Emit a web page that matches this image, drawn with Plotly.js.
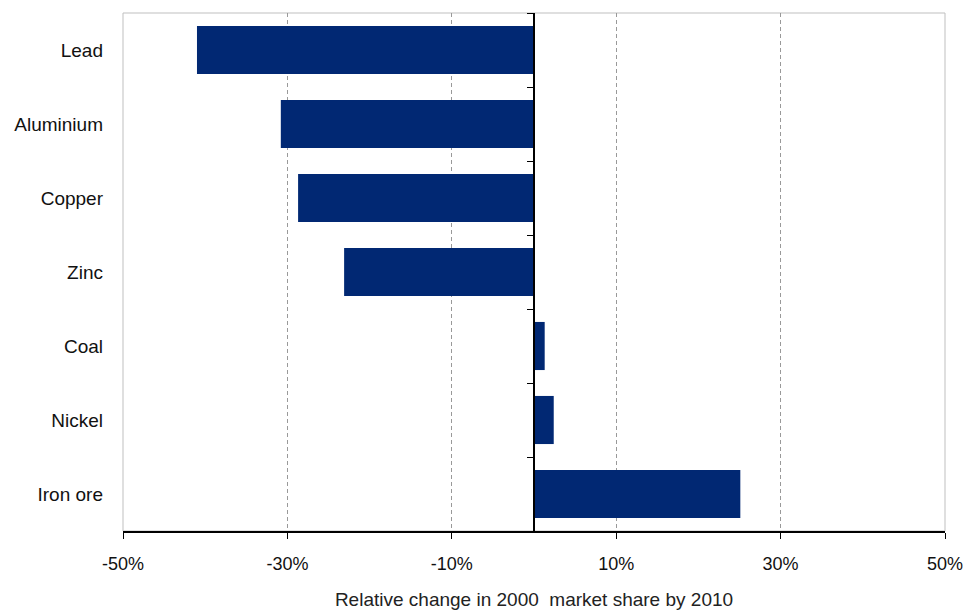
<!DOCTYPE html>
<html>
<head>
<meta charset="utf-8">
<script src="https://cdn.plot.ly/plotly-3.0.1.min.js"></script>
<style>html,body{margin:0;padding:0;background:#fff;}#chart{width:967px;height:610px;}</style>
</head>
<body>
<div id="chart"></div>
<script>
const categories = ["Lead", "Aluminium", "Copper", "Zinc", "Coal", "Nickel", "Iron ore"];
const values = [-41, -30.8, -28.7, -23.1, 1.3, 2.4, 25.1];
const xTickValues = [-50, -30, -10, 10, 30, 50];
const xTickLabels = ["-50%", "-30%", "-10%", "10%", "30%", "50%"];
const axisTitle = "Relative change in 2000\u00a0 market share by 2010";

const barColor = "#012873";

const traces = [
  {
    type: "bar", orientation: "h",
    x: values, y: categories,
    marker: {color: barColor, line: {width: 0}},
    width: 0.65,
    hoverinfo: "x+y",
    xaxis: "x", yaxis: "y"
  },
  {
    type: "bar", orientation: "h",
    x: values, y: categories,
    marker: {color: "rgba(0,0,0,0)"},
    width: 0.65,
    hoverinfo: "skip", showlegend: false,
    xaxis: "x", yaxis: "y2"
  }
];

const layout = {
  width: 967, height: 610,
  margin: {l: 123, r: 22, t: 13, b: 79},
  paper_bgcolor: "#fff", plot_bgcolor: "#fff",
  showlegend: false,
  font: {family: "Liberation Sans, Arial, sans-serif", size: 18, color: "#000"},
  xaxis: {
    range: [-50, 50],
    tickvals: xTickValues, ticktext: xTickLabels,
    showgrid: true, gridcolor: "#999999", griddash: "4px,3px", gridwidth: 1,
    zeroline: false,
    showline: true, linecolor: "#000", linewidth: 2,
    ticks: "outside", ticklen: 6, tickcolor: "#000", tickwidth: 1,
    tickfont: {family: "Liberation Sans, Arial, sans-serif", size: 18, color: "#111"},
    ticklabelstandoff: 9,
    title: {text: axisTitle, font: {family: "Liberation Sans Narrow, Arial Narrow, sans-serif", size: 19, color: "#222"}, standoff: 20},
    fixedrange: true
  },
  yaxis: {
    type: "category",
    categoryorder: "array", categoryarray: categories,
    autorange: "reversed",
    showgrid: false, zeroline: false, showline: false,
    ticks: "", ticklabelstandoff: 19,
    tickfont: {family: "Liberation Sans, Arial, sans-serif", size: 19, color: "#111"},
    fixedrange: true
  },
  yaxis2: {
    type: "category",
    categoryorder: "array", categoryarray: categories,
    autorange: "reversed",
    overlaying: "y", anchor: "free", position: 0.5,
    showgrid: false, zeroline: false,
    showline: true, linecolor: "#000", linewidth: 2,
    ticks: "outside", tickson: "boundaries", ticklen: 6, tickcolor: "#000", tickwidth: 1,
    showticklabels: false,
    fixedrange: true
  },
  shapes: [
    {type: "rect", xref: "paper", yref: "paper", x0: 0, x1: 1, y0: 0, y1: 1,
     line: {color: "#bfbfbf", width: 1}, layer: "below"}
  ]
};

Plotly.newPlot("chart", traces, layout, {displayModeBar: false, staticPlot: true});
</script>
</body>
</html>
